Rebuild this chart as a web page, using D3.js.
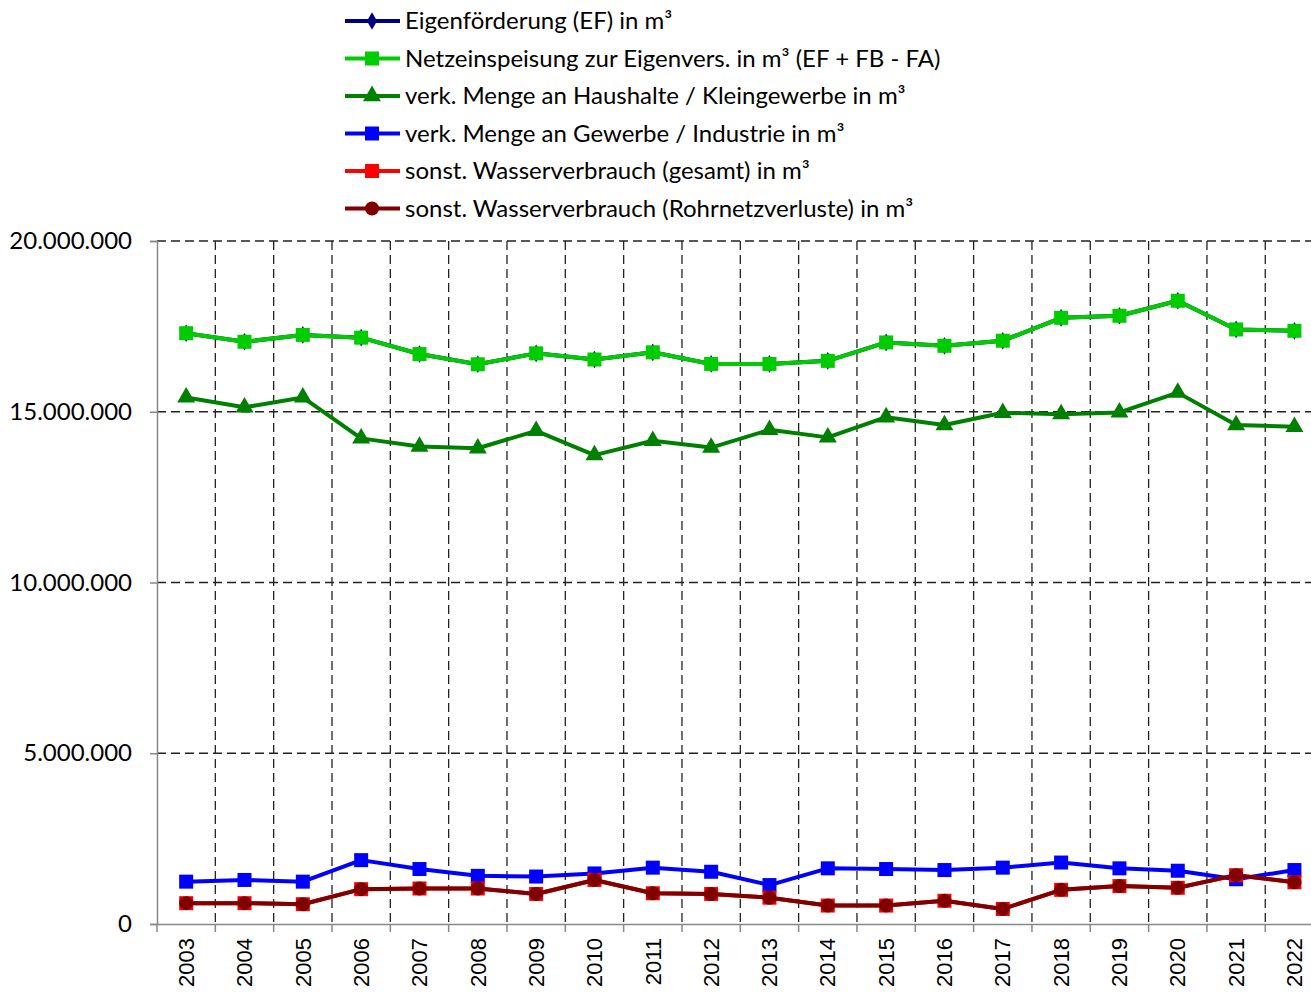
<!DOCTYPE html>
<html>
<head>
<meta charset="utf-8">
<script src="https://cdn.jsdelivr.net/npm/d3@7"></script>
<style>
  body { margin: 0; background: #fff; }
  svg { display: block; }
  .leg text, .yax text { font-family: Lato, "Open Sans", sans-serif; font-size: 24px; fill: #000; }
  .xax text { font-family: "Liberation Sans", Arial, sans-serif; font-size: 22px; fill: #000; }
</style>
</head>
<body>
<svg id="chart" width="1311" height="998"></svg>
<script>
// years on the x axis
const years = ['2003','2004','2005','2006','2007','2008','2009','2010','2011','2012',
               '2013','2014','2015','2016','2017','2018','2019','2020','2021','2022'];

// values in m³
const netzeinspeisung = [17300000,17050000,17250000,17170000,16690000,16390000,16710000,16530000,16740000,16400000,
                         16400000,16490000,17030000,16930000,17080000,17750000,17810000,18250000,17410000,17370000];
const eigenfoerderung = netzeinspeisung.slice(); // hidden under the light green line
const haushalte = [15420000,15130000,15420000,14220000,13980000,13930000,14440000,13730000,14150000,13950000,
                   14470000,14250000,14840000,14610000,14970000,14930000,14980000,15560000,14610000,14560000];
const gewerbe = [1240000,1290000,1240000,1870000,1610000,1410000,1390000,1480000,1650000,1530000,
                 1140000,1630000,1610000,1580000,1650000,1800000,1630000,1560000,1310000,1580000];
const rohrnetz = [610000,610000,580000,1020000,1040000,1040000,880000,1290000,900000,880000,
                  770000,540000,540000,680000,440000,1000000,1110000,1060000,1430000,1220000];
const sonstGesamt = rohrnetz.slice(); // same values, drawn below the dark red line

const yTicks = [0, 5000000, 10000000, 15000000, 20000000];

const series = [
  { name: 'Eigenförderung (EF) in m³', vals: eigenfoerderung, color: '#000080', marker: 'diamond' },
  { name: 'Netzeinspeisung zur Eigenvers. in m³ (EF + FB - FA)', vals: netzeinspeisung, color: '#00CC00', marker: 'square' },
  { name: 'verk. Menge an Haushalte / Kleingewerbe in m³', vals: haushalte, color: '#008000', marker: 'triangle' },
  { name: 'verk. Menge an Gewerbe / Industrie in m³', vals: gewerbe, color: '#0000FF', marker: 'square' },
  { name: 'sonst. Wasserverbrauch (gesamt) in m³', vals: sonstGesamt, color: '#FF0000', marker: 'square' },
  { name: 'sonst. Wasserverbrauch (Rohrnetzverluste) in m³', vals: rohrnetz, color: '#800000', marker: 'circle' }
];

const svg = d3.select('#chart');
const plotLeft = 157, plotTop = 241, plotBottom = 924, band = 58.33;

const x = d3.scaleBand().domain(years).range([plotLeft, plotLeft + band * years.length]);
const y = d3.scaleLinear().domain([0, 20000000]).range([plotBottom, plotTop]);

const fmt = v => v === 0 ? '0' : d3.format(',')(v).replace(/,/g, '.');

// grid
const grid = svg.append('g');
grid.selectAll('.hg').data(yTicks.filter(d => d > 0)).enter().append('line')
  .attr('x1', plotLeft).attr('x2', 1311)
  .attr('y1', d => y(d)).attr('y2', d => y(d))
  .attr('stroke', '#222').attr('stroke-width', 1.3).attr('stroke-dasharray', '9,5');
grid.selectAll('.vg').data(d3.range(1, years.length + 1)).enter().append('line')
  .attr('x1', i => plotLeft + band * i).attr('x2', i => plotLeft + band * i)
  .attr('y1', plotTop).attr('y2', plotBottom)
  .attr('stroke', '#222').attr('stroke-width', 1.3).attr('stroke-dasharray', '9,5');

// y axis
const yax = svg.append('g').attr('class', 'yax').attr('transform', `translate(${plotLeft},0)`)
  .call(d3.axisLeft(y).tickValues(yTicks).tickFormat(fmt).tickSize(7).tickPadding(18));
yax.select('.domain').attr('stroke', '#888').attr('stroke-width', 1.5);
yax.selectAll('.tick line').attr('stroke', '#888').attr('stroke-width', 1.5);

// x axis
const xax = svg.append('g').attr('class', 'xax').attr('transform', `translate(0,${plotBottom})`)
  .call(d3.axisBottom(x).tickSize(0).tickPadding(0));
xax.select('.domain').attr('stroke', '#888').attr('stroke-width', 1.5);
xax.selectAll('.tick text')
  .attr('transform', 'rotate(-90)')
  .attr('x', -14).attr('y', 0).attr('dy', '0.35em')
  .style('text-anchor', 'end');
xax.selectAll('.bt').data(d3.range(years.length + 1)).enter().append('line')
  .attr('x1', i => plotLeft + band * i).attr('x2', i => plotLeft + band * i)
  .attr('y1', 0).attr('y2', 8).attr('stroke', '#888').attr('stroke-width', 1.5);

// markers
function drawMarker(g, type, color, cx, cy) {
  if (type === 'square') {
    g.append('rect').attr('x', cx - 7).attr('y', cy - 7).attr('width', 14).attr('height', 14).attr('fill', color);
  } else if (type === 'circle') {
    g.append('circle').attr('cx', cx).attr('cy', cy).attr('r', 7).attr('fill', color);
  } else if (type === 'triangle') {
    g.append('path').attr('d', d3.symbol(d3.symbolTriangle, 140)()).attr('transform', `translate(${cx},${cy})`).attr('fill', color);
  } else {
    g.append('path').attr('d', d3.symbol(d3.symbolDiamond, 90)()).attr('transform', `translate(${cx},${cy})`).attr('fill', color);
  }
}

const line = d3.line().x((d, i) => x(years[i]) + x.bandwidth() / 2).y(d => y(d));

series.forEach(s => {
  const g = svg.append('g');
  g.append('path').attr('d', line(s.vals)).attr('fill', 'none')
    .attr('stroke', s.color).attr('stroke-width', 4).attr('stroke-linejoin', 'round');
  s.vals.forEach((v, i) => drawMarker(g, s.marker, s.color, x(years[i]) + x.bandwidth() / 2, y(v)));
});

// legend
const leg = svg.append('g').attr('class', 'leg');
series.forEach((s, i) => {
  const ly = 21 + i * 37.5;
  const g = leg.append('g');
  g.append('line').attr('x1', 345).attr('x2', 400).attr('y1', ly).attr('y2', ly)
    .attr('stroke', s.color).attr('stroke-width', 4);
  drawMarker(g, s.marker, s.color, 372, ly);
  g.append('text').attr('x', 405).attr('y', ly).attr('dy', '0.35em').text(s.name);
});
</script>
</body>
</html>
